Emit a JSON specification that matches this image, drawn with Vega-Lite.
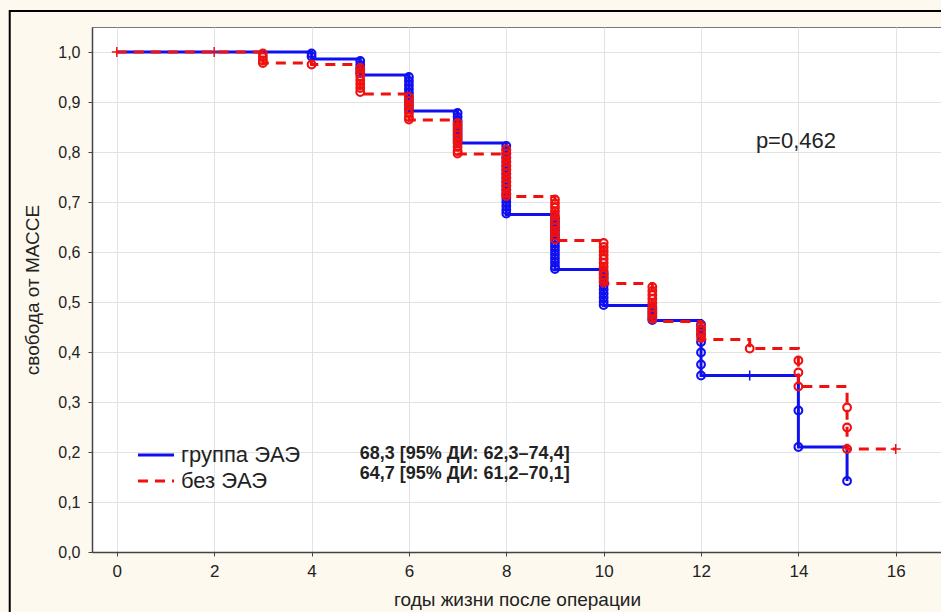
{
  "$schema": "https://vega.github.io/schema/vega-lite/v6.json",
  "autosize": {"type": "none"},
  "padding": {"left": 92, "top": 27, "right": 0, "bottom": 60},
  "width": 850,
  "height": 525,
  "background": "#fdf9ef",
  "config": {
    "view": {"fill": "white", "stroke": "#777", "strokeWidth": 1},
    "font": "Liberation Sans",
    "axis": {
      "domainColor": "#444", "domainWidth": 1.5, "tickColor": "#444", "tickSize": 4,
      "gridColor": "#e2e2e2", "gridWidth": 1, "labelColor": "#222", "titleColor": "#222",
      "labelFont": "Liberation Sans", "titleFont": "Liberation Sans", "titleFontWeight": "normal"
    }
  },
  "datasets": {
    "curves": [
      {"group": "группа ЭАЭ", "t": 0, "s": 1.0},
      {"group": "группа ЭАЭ", "t": 4, "s": 0.986},
      {"group": "группа ЭАЭ", "t": 5, "s": 0.954},
      {"group": "группа ЭАЭ", "t": 6, "s": 0.882},
      {"group": "группа ЭАЭ", "t": 7, "s": 0.818},
      {"group": "группа ЭАЭ", "t": 8, "s": 0.675},
      {"group": "группа ЭАЭ", "t": 9, "s": 0.565},
      {"group": "группа ЭАЭ", "t": 10, "s": 0.493},
      {"group": "группа ЭАЭ", "t": 11, "s": 0.463},
      {"group": "группа ЭАЭ", "t": 12, "s": 0.353},
      {"group": "группа ЭАЭ", "t": 14, "s": 0.21},
      {"group": "группа ЭАЭ", "t": 15, "s": 0.142},
      {"group": "без ЭАЭ", "t": 0, "s": 1.0},
      {"group": "без ЭАЭ", "t": 3, "s": 0.978},
      {"group": "без ЭАЭ", "t": 4, "s": 0.975},
      {"group": "без ЭАЭ", "t": 5, "s": 0.916},
      {"group": "без ЭАЭ", "t": 6, "s": 0.864},
      {"group": "без ЭАЭ", "t": 7, "s": 0.796},
      {"group": "без ЭАЭ", "t": 8, "s": 0.711},
      {"group": "без ЭАЭ", "t": 9, "s": 0.623},
      {"group": "без ЭАЭ", "t": 10, "s": 0.537},
      {"group": "без ЭАЭ", "t": 11, "s": 0.461},
      {"group": "без ЭАЭ", "t": 12, "s": 0.425},
      {"group": "без ЭАЭ", "t": 13, "s": 0.407},
      {"group": "без ЭАЭ", "t": 14, "s": 0.331},
      {"group": "без ЭАЭ", "t": 15, "s": 0.206},
      {"group": "без ЭАЭ", "t": 16, "s": 0.206}
    ],
    "censored": [
      {"group": "группа ЭАЭ", "t": 4, "s": 0.997},
      {"group": "группа ЭАЭ", "t": 4, "s": 0.991},
      {"group": "группа ЭАЭ", "t": 5, "s": 0.982},
      {"group": "группа ЭАЭ", "t": 5, "s": 0.974},
      {"group": "группа ЭАЭ", "t": 5, "s": 0.966},
      {"group": "группа ЭАЭ", "t": 5, "s": 0.958},
      {"group": "группа ЭАЭ", "t": 6, "s": 0.95},
      {"group": "группа ЭАЭ", "t": 6, "s": 0.942},
      {"group": "группа ЭАЭ", "t": 6, "s": 0.934},
      {"group": "группа ЭАЭ", "t": 6, "s": 0.926},
      {"group": "группа ЭАЭ", "t": 6, "s": 0.918},
      {"group": "группа ЭАЭ", "t": 6, "s": 0.91},
      {"group": "группа ЭАЭ", "t": 6, "s": 0.902},
      {"group": "группа ЭАЭ", "t": 6, "s": 0.894},
      {"group": "группа ЭАЭ", "t": 6, "s": 0.886},
      {"group": "группа ЭАЭ", "t": 7, "s": 0.878},
      {"group": "группа ЭАЭ", "t": 7, "s": 0.87},
      {"group": "группа ЭАЭ", "t": 7, "s": 0.862},
      {"group": "группа ЭАЭ", "t": 7, "s": 0.854},
      {"group": "группа ЭАЭ", "t": 7, "s": 0.846},
      {"group": "группа ЭАЭ", "t": 7, "s": 0.838},
      {"group": "группа ЭАЭ", "t": 7, "s": 0.83},
      {"group": "группа ЭАЭ", "t": 7, "s": 0.822},
      {"group": "группа ЭАЭ", "t": 8, "s": 0.812},
      {"group": "группа ЭАЭ", "t": 8, "s": 0.804},
      {"group": "группа ЭАЭ", "t": 8, "s": 0.796},
      {"group": "группа ЭАЭ", "t": 8, "s": 0.788},
      {"group": "группа ЭАЭ", "t": 8, "s": 0.78},
      {"group": "группа ЭАЭ", "t": 8, "s": 0.772},
      {"group": "группа ЭАЭ", "t": 8, "s": 0.764},
      {"group": "группа ЭАЭ", "t": 8, "s": 0.756},
      {"group": "группа ЭАЭ", "t": 8, "s": 0.748},
      {"group": "группа ЭАЭ", "t": 8, "s": 0.74},
      {"group": "группа ЭАЭ", "t": 8, "s": 0.732},
      {"group": "группа ЭАЭ", "t": 8, "s": 0.724},
      {"group": "группа ЭАЭ", "t": 8, "s": 0.716},
      {"group": "группа ЭАЭ", "t": 8, "s": 0.708},
      {"group": "группа ЭАЭ", "t": 8, "s": 0.7},
      {"group": "группа ЭАЭ", "t": 8, "s": 0.692},
      {"group": "группа ЭАЭ", "t": 8, "s": 0.684},
      {"group": "группа ЭАЭ", "t": 8, "s": 0.677},
      {"group": "группа ЭАЭ", "t": 9, "s": 0.667},
      {"group": "группа ЭАЭ", "t": 9, "s": 0.659},
      {"group": "группа ЭАЭ", "t": 9, "s": 0.651},
      {"group": "группа ЭАЭ", "t": 9, "s": 0.643},
      {"group": "группа ЭАЭ", "t": 9, "s": 0.635},
      {"group": "группа ЭАЭ", "t": 9, "s": 0.627},
      {"group": "группа ЭАЭ", "t": 9, "s": 0.619},
      {"group": "группа ЭАЭ", "t": 9, "s": 0.611},
      {"group": "группа ЭАЭ", "t": 9, "s": 0.603},
      {"group": "группа ЭАЭ", "t": 9, "s": 0.595},
      {"group": "группа ЭАЭ", "t": 9, "s": 0.587},
      {"group": "группа ЭАЭ", "t": 9, "s": 0.579},
      {"group": "группа ЭАЭ", "t": 9, "s": 0.571},
      {"group": "группа ЭАЭ", "t": 9, "s": 0.566},
      {"group": "группа ЭАЭ", "t": 10, "s": 0.557},
      {"group": "группа ЭАЭ", "t": 10, "s": 0.549},
      {"group": "группа ЭАЭ", "t": 10, "s": 0.541},
      {"group": "группа ЭАЭ", "t": 10, "s": 0.533},
      {"group": "группа ЭАЭ", "t": 10, "s": 0.525},
      {"group": "группа ЭАЭ", "t": 10, "s": 0.517},
      {"group": "группа ЭАЭ", "t": 10, "s": 0.509},
      {"group": "группа ЭАЭ", "t": 10, "s": 0.501},
      {"group": "группа ЭАЭ", "t": 10, "s": 0.494},
      {"group": "группа ЭАЭ", "t": 11, "s": 0.486},
      {"group": "группа ЭАЭ", "t": 11, "s": 0.478},
      {"group": "группа ЭАЭ", "t": 11, "s": 0.47},
      {"group": "группа ЭАЭ", "t": 11, "s": 0.464},
      {"group": "группа ЭАЭ", "t": 12, "s": 0.455},
      {"group": "группа ЭАЭ", "t": 12, "s": 0.445},
      {"group": "группа ЭАЭ", "t": 12, "s": 0.435},
      {"group": "группа ЭАЭ", "t": 12, "s": 0.42},
      {"group": "группа ЭАЭ", "t": 12, "s": 0.399},
      {"group": "группа ЭАЭ", "t": 12, "s": 0.375},
      {"group": "группа ЭАЭ", "t": 12, "s": 0.353},
      {"group": "группа ЭАЭ", "t": 14, "s": 0.283},
      {"group": "группа ЭАЭ", "t": 14, "s": 0.21},
      {"group": "группа ЭАЭ", "t": 15, "s": 0.142},
      {"group": "без ЭАЭ", "t": 3, "s": 0.997},
      {"group": "без ЭАЭ", "t": 3, "s": 0.99},
      {"group": "без ЭАЭ", "t": 3, "s": 0.983},
      {"group": "без ЭАЭ", "t": 3, "s": 0.978},
      {"group": "без ЭАЭ", "t": 4, "s": 0.975},
      {"group": "без ЭАЭ", "t": 5, "s": 0.968},
      {"group": "без ЭАЭ", "t": 5, "s": 0.96},
      {"group": "без ЭАЭ", "t": 5, "s": 0.952},
      {"group": "без ЭАЭ", "t": 5, "s": 0.944},
      {"group": "без ЭАЭ", "t": 5, "s": 0.936},
      {"group": "без ЭАЭ", "t": 5, "s": 0.928},
      {"group": "без ЭАЭ", "t": 5, "s": 0.92},
      {"group": "без ЭАЭ", "t": 6, "s": 0.91},
      {"group": "без ЭАЭ", "t": 6, "s": 0.902},
      {"group": "без ЭАЭ", "t": 6, "s": 0.894},
      {"group": "без ЭАЭ", "t": 6, "s": 0.886},
      {"group": "без ЭАЭ", "t": 6, "s": 0.878},
      {"group": "без ЭАЭ", "t": 6, "s": 0.87},
      {"group": "без ЭАЭ", "t": 6, "s": 0.865},
      {"group": "без ЭАЭ", "t": 7, "s": 0.858},
      {"group": "без ЭАЭ", "t": 7, "s": 0.85},
      {"group": "без ЭАЭ", "t": 7, "s": 0.842},
      {"group": "без ЭАЭ", "t": 7, "s": 0.834},
      {"group": "без ЭАЭ", "t": 7, "s": 0.826},
      {"group": "без ЭАЭ", "t": 7, "s": 0.818},
      {"group": "без ЭАЭ", "t": 7, "s": 0.81},
      {"group": "без ЭАЭ", "t": 7, "s": 0.802},
      {"group": "без ЭАЭ", "t": 7, "s": 0.797},
      {"group": "без ЭАЭ", "t": 8, "s": 0.805},
      {"group": "без ЭАЭ", "t": 8, "s": 0.797},
      {"group": "без ЭАЭ", "t": 8, "s": 0.789},
      {"group": "без ЭАЭ", "t": 8, "s": 0.781},
      {"group": "без ЭАЭ", "t": 8, "s": 0.773},
      {"group": "без ЭАЭ", "t": 8, "s": 0.765},
      {"group": "без ЭАЭ", "t": 8, "s": 0.757},
      {"group": "без ЭАЭ", "t": 8, "s": 0.749},
      {"group": "без ЭАЭ", "t": 8, "s": 0.741},
      {"group": "без ЭАЭ", "t": 8, "s": 0.733},
      {"group": "без ЭАЭ", "t": 8, "s": 0.725},
      {"group": "без ЭАЭ", "t": 8, "s": 0.717},
      {"group": "без ЭАЭ", "t": 8, "s": 0.712},
      {"group": "без ЭАЭ", "t": 9, "s": 0.705},
      {"group": "без ЭАЭ", "t": 9, "s": 0.697},
      {"group": "без ЭАЭ", "t": 9, "s": 0.689},
      {"group": "без ЭАЭ", "t": 9, "s": 0.681},
      {"group": "без ЭАЭ", "t": 9, "s": 0.673},
      {"group": "без ЭАЭ", "t": 9, "s": 0.665},
      {"group": "без ЭАЭ", "t": 9, "s": 0.657},
      {"group": "без ЭАЭ", "t": 9, "s": 0.649},
      {"group": "без ЭАЭ", "t": 9, "s": 0.641},
      {"group": "без ЭАЭ", "t": 9, "s": 0.633},
      {"group": "без ЭАЭ", "t": 9, "s": 0.625},
      {"group": "без ЭАЭ", "t": 10, "s": 0.618},
      {"group": "без ЭАЭ", "t": 10, "s": 0.61},
      {"group": "без ЭАЭ", "t": 10, "s": 0.602},
      {"group": "без ЭАЭ", "t": 10, "s": 0.594},
      {"group": "без ЭАЭ", "t": 10, "s": 0.586},
      {"group": "без ЭАЭ", "t": 10, "s": 0.578},
      {"group": "без ЭАЭ", "t": 10, "s": 0.57},
      {"group": "без ЭАЭ", "t": 10, "s": 0.562},
      {"group": "без ЭАЭ", "t": 10, "s": 0.554},
      {"group": "без ЭАЭ", "t": 10, "s": 0.546},
      {"group": "без ЭАЭ", "t": 10, "s": 0.539},
      {"group": "без ЭАЭ", "t": 11, "s": 0.53},
      {"group": "без ЭАЭ", "t": 11, "s": 0.522},
      {"group": "без ЭАЭ", "t": 11, "s": 0.514},
      {"group": "без ЭАЭ", "t": 11, "s": 0.506},
      {"group": "без ЭАЭ", "t": 11, "s": 0.498},
      {"group": "без ЭАЭ", "t": 11, "s": 0.49},
      {"group": "без ЭАЭ", "t": 11, "s": 0.482},
      {"group": "без ЭАЭ", "t": 11, "s": 0.474},
      {"group": "без ЭАЭ", "t": 11, "s": 0.466},
      {"group": "без ЭАЭ", "t": 12, "s": 0.452},
      {"group": "без ЭАЭ", "t": 12, "s": 0.444},
      {"group": "без ЭАЭ", "t": 12, "s": 0.436},
      {"group": "без ЭАЭ", "t": 12, "s": 0.428},
      {"group": "без ЭАЭ", "t": 13, "s": 0.407},
      {"group": "без ЭАЭ", "t": 14, "s": 0.383},
      {"group": "без ЭАЭ", "t": 14, "s": 0.359},
      {"group": "без ЭАЭ", "t": 14, "s": 0.331},
      {"group": "без ЭАЭ", "t": 15, "s": 0.289},
      {"group": "без ЭАЭ", "t": 15, "s": 0.249},
      {"group": "без ЭАЭ", "t": 15, "s": 0.206}
    ],
    "ticks": [
      {"group": "без ЭАЭ", "t": 0, "s": 1.0},
      {"group": "без ЭАЭ", "t": 2, "s": 1.0},
      {"group": "без ЭАЭ", "t": 16, "s": 0.206},
      {"group": "группа ЭАЭ", "t": 13, "s": 0.353}
    ],
    "one": [{"k": 1}]
  },
  "layer": [
    {
      "data": {"name": "curves"},
      "transform": [{"filter": "datum.group === 'группа ЭАЭ'"}],
      "mark": {"type": "line", "interpolate": "step-after", "strokeWidth": 3},
      "encoding": {
        "x": {"field": "t", "type": "quantitative",
          "scale": {"domain": [-0.51, 16.95], "nice": false, "zero": false},
          "axis": {"values": [0, 2, 4, 6, 8, 10, 12, 14, 16], "title": "годы жизни после операции",
            "labelFontSize": 17, "titleFontSize": 19, "labelPadding": 7, "titlePadding": 11, "grid": true}},
        "y": {"field": "s", "type": "quantitative",
          "scale": {"domain": [0, 1.05], "nice": false},
          "axis": {"values": [0, 0.1, 0.2, 0.3, 0.4, 0.5, 0.6, 0.7, 0.8, 0.9, 1.0], "title": "свобода от МАССЕ",
            "labelExpr": "replace(format(datum.value, '.1f'), '.', ',')",
            "labelFontSize": 16, "titleFontSize": 19, "labelPadding": 8, "titlePadding": 15, "grid": true}},
        "color": {"field": "group", "type": "nominal",
          "scale": {"domain": ["группа ЭАЭ", "без ЭАЭ"], "range": ["#0f0ff0", "#f01010"]},
          "legend": {"orient": "none", "legendX": 53, "legendY": 417, "title": null, "padding": 0,
            "symbolType": "M-3,0H3", "symbolSize": 144, "symbolStrokeWidth": 3,
            "labelFontSize": 22, "labelFont": "Liberation Sans", "labelColor": "#222", "labelOffset": 14, "rowPadding": 4}},
        "strokeDash": {"field": "group", "type": "nominal",
          "scale": {"domain": ["группа ЭАЭ", "без ЭАЭ"], "range": [[1, 0], [10, 7]]},
          "legend": {"orient": "none", "legendX": 53, "legendY": 417, "title": null, "padding": 0,
            "symbolType": "M-3,0H3", "symbolSize": 144, "symbolStrokeWidth": 3,
            "labelFontSize": 22, "labelFont": "Liberation Sans", "labelColor": "#222", "labelOffset": 14, "rowPadding": 4}}
      }
    },
    {
      "data": {"name": "censored"},
      "transform": [{"filter": "datum.group === 'группа ЭАЭ'"}],
      "mark": {"type": "point", "shape": "circle", "filled": false, "size": 60, "strokeWidth": 2.1, "color": "#0f0ff0", "opacity": 1},
      "encoding": {
        "x": {"field": "t", "type": "quantitative"},
        "y": {"field": "s", "type": "quantitative"}
      }
    },
    {
      "data": {"name": "curves"},
      "transform": [{"filter": "datum.group === 'без ЭАЭ'"}],
      "mark": {"type": "line", "interpolate": "step-after", "strokeWidth": 3},
      "encoding": {
        "x": {"field": "t", "type": "quantitative"},
        "y": {"field": "s", "type": "quantitative"},
        "color": {"field": "group", "type": "nominal"},
        "strokeDash": {"field": "group", "type": "nominal"}
      }
    },
    {
      "data": {"name": "censored"},
      "transform": [{"filter": "datum.group === 'без ЭАЭ'"}],
      "mark": {"type": "point", "shape": "circle", "filled": false, "size": 60, "strokeWidth": 2.1, "color": "#f01010", "opacity": 1},
      "encoding": {
        "x": {"field": "t", "type": "quantitative"},
        "y": {"field": "s", "type": "quantitative"}
      }
    },
    {
      "data": {"name": "ticks"},
      "mark": {"type": "point", "shape": "M-1,0H1M0,-1V1", "filled": false, "size": 100, "strokeWidth": 1.5, "opacity": 1},
      "encoding": {
        "x": {"field": "t", "type": "quantitative"},
        "y": {"field": "s", "type": "quantitative"},
        "color": {"field": "group", "type": "nominal", "legend": null}
      }
    },
    {
      "data": {"name": "one"},
      "mark": {"type": "rect", "filled": false, "stroke": "#000", "strokeWidth": 2, "clip": false},
      "encoding": {
        "x": {"datum": -2.2},
        "x2": {"datum": 25},
        "y": {"datum": 1.082},
        "y2": {"datum": -0.5}
      }
    },
    {
      "data": {"name": "one"},
      "mark": {"type": "text", "fontSize": 22, "font": "Liberation Sans", "color": "#222", "align": "center", "baseline": "middle"},
      "encoding": {
        "x": {"datum": 13.95},
        "y": {"datum": 0.822},
        "text": {"value": "p=0,462"}
      }
    },
    {
      "data": {"name": "one"},
      "mark": {"type": "text", "fontSize": 18, "fontWeight": "bold", "font": "Liberation Sans", "color": "#222", "align": "left", "baseline": "middle"},
      "encoding": {
        "x": {"datum": 4.99},
        "y": {"datum": 0.197},
        "text": {"value": "68,3 [95% ДИ: 62,3–74,4]"}
      }
    },
    {
      "data": {"name": "one"},
      "mark": {"type": "text", "fontSize": 18, "fontWeight": "bold", "font": "Liberation Sans", "color": "#222", "align": "left", "baseline": "middle"},
      "encoding": {
        "x": {"datum": 4.99},
        "y": {"datum": 0.157},
        "text": {"value": "64,7 [95% ДИ: 61,2–70,1]"}
      }
    }
  ]
}
